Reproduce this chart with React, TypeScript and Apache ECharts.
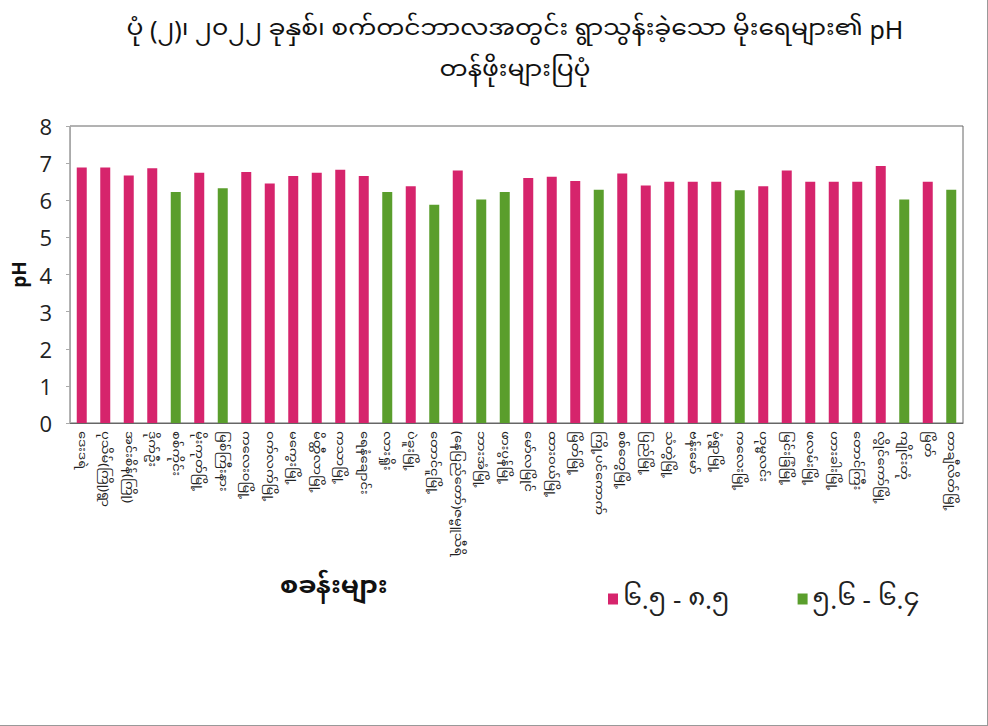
import React, { useEffect, useRef } from "react";
import * as echarts from "echarts";

const titleLine1 = "ပုံ (၂)၊ ၂၀၂၂ ခုနှစ်၊ စက်တင်ဘာလအတွင်း ရွာသွန်းခဲ့သော မိုးရေများ၏ pH";
const titleLine2 = "တန်ဖိုးများပြပုံ";
const xAxisTitle = "စခန်းများ";
const yAxisTitle = "pH";
const seriesNames = ["၆.၅ - ၈.၅", "၅.၆ - ၆.၄"];

const stations = [
  "ဒေးဒရဲ", "ပုသိမ်(ကြို)ရွာ", "အင်းစိန်(ကြို)", "ဒိုက်ဦး", "စစ်ကိုင်း",
  "မိုးကုတ်မြို့", "မြစ်ကြီးနား", "ကလေးဝမြို့", "ဝက်လက်မြို့", "မကွေးမြို့",
  "မိတ္ထီလာမြို့", "ကသာမြို့", "ရေနံချောင်း", "လားရှိုး", "ပဲခူးမြို့",
  "တောင်ငူမြို့", "(နေပြည်တော်)ဇမ္ဗူသီရိ", "ဘားအံမြို့", "ဖားပွန်မြို့", "မော်လမြိုင်",
  "ထားဝယ်မြို့", "မြိတ်မြို့", "ကြို့ပင်ကောက်", "စစ်တွေမြို့", "ပြည်မြို့",
  "သံတွဲမြို့", "ဗန်းမော်", "မုံရွာမြို့", "ကလေးမြို့", "ဟုမ္မလင်း",
  "မြင်းခြံမြို့", "ဖလမ်းမြို့", "ဟားခါးမြို့", "တောင်ကြီး", "လွိုင်ကော်မြို့",
  "ကျိုင်းတုံ", "မြိတ်", "တာချီလိတ်မြို့",
];

// pH value per station; class: "P" = 6.5-8.5, "G" = 5.6-6.4
const phValues = [
  6.88, 6.88, 6.67, 6.86, 6.22, 6.74, 6.32, 6.76, 6.45, 6.65,
  6.74, 6.82, 6.65, 6.22, 6.38, 5.88, 6.8, 6.02, 6.22, 6.6,
  6.63, 6.52, 6.28, 6.72, 6.4, 6.5, 6.5, 6.5, 6.27, 6.38,
  6.8, 6.5, 6.5, 6.5, 6.92, 6.02, 6.5, 6.28,
];
const phClass = [
  "P", "P", "P", "P", "G", "P", "G", "P", "P", "P",
  "P", "P", "P", "G", "P", "G", "P", "G", "G", "P",
  "P", "P", "G", "P", "P", "P", "P", "P", "G", "P",
  "P", "P", "P", "P", "P", "G", "P", "G",
];
const yTicks = [0, 1, 2, 3, 4, 5, 6, 7, 8];

const PINK = "#d6246c";
const GREEN = "#5a9e2c";
const MM_FONT = "'Noto Sans Myanmar UI', 'Noto Sans Myanmar', 'Padauk', 'Myanmar Text', 'Noto Sans', 'DejaVu Sans', sans-serif";
const NUM_FONT = "'Open Sans', 'Noto Sans', sans-serif";

export default function App() {
  const ref = useRef<HTMLDivElement>(null);
  useEffect(() => {
    document.body.style.margin = "0";
    if (!ref.current) return;
    const chart = echarts.init(ref.current, undefined, { renderer: "svg" });
    const pinkData = phValues.map((v, i) => (phClass[i] === "P" ? v : null));
    const greenData = phValues.map((v, i) => (phClass[i] === "G" ? v : null));
    const titleStyle = {
      fontFamily: MM_FONT,
      fontSize: 25,
      fontWeight: "normal",
      color: "#111",
    };
    chart.setOption({
      animation: false,
      backgroundColor: "#ffffff",
      title: [
        { text: titleLine1, left: 510, top: 11, textAlign: "center", textStyle: titleStyle },
        { text: titleLine2, left: 510, top: 52, textAlign: "center", textStyle: titleStyle },
      ],
      legend: {
        data: seriesNames,
        left: 603,
        top: 581,
        itemWidth: 10,
        itemHeight: 11,
        itemGap: 68,
        icon: "rect",
        textStyle: { fontFamily: MM_FONT, fontSize: 26, color: "#222" },
      },
      grid: {
        left: 70,
        right: 24,
        top: 126,
        bottom: 302,
        show: true,
        borderColor: "#666",
        borderWidth: 1,
      },
      xAxis: {
        type: "category",
        data: stations,
        axisTick: { show: false },
        axisLine: { lineStyle: { color: "#666" } },
        axisLabel: {
          interval: 0,
          rotate: -90,
          fontFamily: MM_FONT,
          fontSize: 13,
          color: "#222",
          margin: 8,
        },
      },
      yAxis: {
        type: "value",
        min: 0,
        max: 8,
        interval: 1,
        name: yAxisTitle,
        nameLocation: "middle",
        nameGap: 42,
        nameRotate: 90,
        nameTextStyle: { fontFamily: NUM_FONT, fontSize: 19, fontWeight: "bold", color: "#111" },
        splitLine: { show: false },
        axisLine: { show: true, lineStyle: { color: "#aaa" } },
        axisTick: { show: true, length: 4, lineStyle: { color: "#aaa" } },
        axisLabel: {
          fontFamily: NUM_FONT,
          fontSize: 22,
          color: "#222",
          margin: 18,
          formatter: (v: number) => (yTicks.includes(v) ? String(v) : ""),
        },
      },
      graphic: [
        {
          type: "text",
          left: 280,
          top: 574,
          style: { text: xAxisTitle, font: `bold 26px ${MM_FONT}`, fill: "#111" },
        },
      ],
      series: [
        {
          name: seriesNames[0],
          type: "bar",
          data: pinkData,
          barWidth: 10,
          barGap: "-100%",
          itemStyle: { color: PINK },
        },
        {
          name: seriesNames[1],
          type: "bar",
          data: greenData,
          barWidth: 10,
          itemStyle: { color: GREEN },
        },
      ],
    });
    return () => chart.dispose();
  }, []);
  return (
    <div
      ref={ref}
      style={{ width: 988, height: 726, boxSizing: "border-box", borderRight: "1px solid #999", borderBottom: "1px solid #999" }}
    />
  );
}
